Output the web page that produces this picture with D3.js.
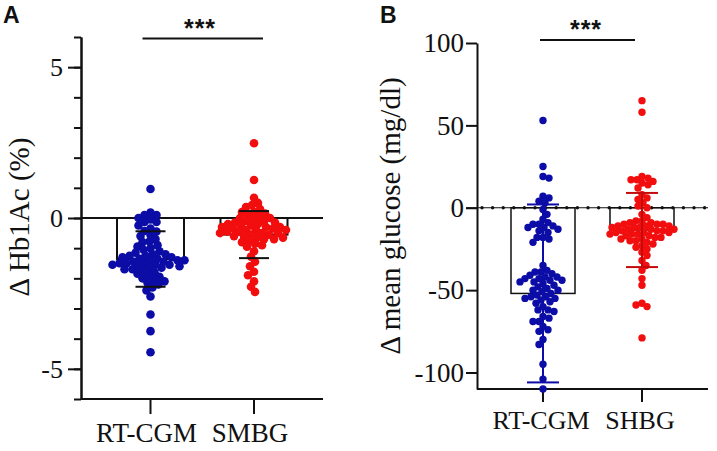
<!DOCTYPE html>
<html>
<head>
<meta charset="utf-8">
<script src="https://cdn.jsdelivr.net/npm/d3@7"></script>
<style>
body{margin:0;background:#fff}
svg{display:block}
text{font-family:"Times New Roman","Liberation Serif",Tinos,serif;fill:#111}
.sans{font-family:Arial,"Liberation Sans",Helvetica,"DejaVu Sans",sans-serif}
</style>
</head>
<body>
<svg id="chart" width="717" height="451"></svg>
<script>
// panel A : change in Hb1Ac (%)
var catsA = ["RT-CGM", "SMBG"];
var hbRT = [0.96, 0.18, 0.1, 0.1, 0.0, -0.05, -0.13, -0.13, -0.25, -0.35, -0.43, -0.45, -0.56, -0.6, -0.7,
  -0.78, -0.8, -0.9, -0.95, -1.0, -1.05, -1.1, -1.15, -1.2, -1.2, -1.25, -1.25, -1.3, -1.3, -1.35, -1.35,
  -1.4, -1.4, -1.4, -1.45, -1.45, -1.5, -1.5, -1.5, -1.55, -1.55, -1.55, -1.6, -1.6, -1.65, -1.65, -1.7,
  -1.7, -1.75, -1.8, -1.85, -1.9, -1.95, -2.0, -2.05, -2.1, -2.15, -2.2, -2.3, -2.4, -2.6, -3.2, -3.75, -4.45];
var hbSM = [2.48, 1.26, 0.67, 0.5, 0.43, 0.36, 0.3, 0.2, 0.2, 0.15, 0.1, 0.05, 0.0, 0.0, -0.05, -0.1, -0.1,
  -0.15, -0.15, -0.2, -0.2, -0.25, -0.25, -0.3, -0.3, -0.3, -0.35, -0.35, -0.4, -0.4, -0.4, -0.45, -0.45,
  -0.5, -0.5, -0.5, -0.55, -0.55, -0.6, -0.6, -0.65, -0.65, -0.7, -0.7, -0.75, -0.8, -0.85, -0.9, -0.95,
  -1.1, -1.28, -1.45, -1.6, -1.78, -1.9, -2.1, -2.28, -2.45];
var hbMean = [-1.36, -0.55];
var hbSD = [0.92, 0.78];
var ticksA = [-5, 0, 5];

// panel B : change in mean glucose (mg/dl)
var catsB = ["RT-CGM", "SHBG"];
var glRT = [53, 25, 19, 18, 7, 6, 4, 3, -1, -4, -7, -9, -10, -10, -11, -12, -12, -13, -14, -15, -18, -18,
  -19, -21, -35, -38, -39, -39, -40, -41, -42, -42, -43, -43, -44, -44, -45, -45, -46, -47, -48, -49, -50,
  -50, -51, -52, -53, -54, -54, -55, -55, -56, -57, -58, -60, -62, -62, -63, -66, -67, -69, -69, -72, -74,
  -75, -80, -83, -95, -104, -110];
var glSH = [65, 58, 19, 18, 17, 17, 16, 15, 14, 12, 8, 6, 5, 3, 1, 0, -4, -6, -8, -8, -9, -9, -10, -10, -10,
  -11, -11, -11, -12, -12, -12, -13, -13, -13, -14, -14, -14, -15, -15, -15, -16, -16, -16, -17, -17, -18,
  -18, -19, -19, -20, -20, -21, -22, -23, -24, -25, -27, -29, -32, -35, -38, -43, -47, -58, -59, -60, -79];
var glMean = [-52, -13.5];
var glSD = [54, 22.5];
var ticksB = [-100, -50, 0, 50, 100];

var blue = "#0c0ca6", red = "#f20e0e";
var svg = d3.select("#chart");

// simple beeswarm: push each dot sideways until it clears the others
function swarm(vals, y, r, k) {
  var pts = vals.map(function(v) { return {v: v, y: y(v), dx: 0}; })
    .sort(function(a, b) { return a.y - b.y; });
  var placed = [], minD = 2 * r * k;
  pts.forEach(function(p, i) {
    for (var m = 0; m < 200; m++) {
      var cands = m === 0 ? [0] : (i % 2 ? [m, -m] : [-m, m]);
      var hit = null;
      for (var c = 0; c < cands.length; c++) {
        var ok = placed.every(function(q) {
          return Math.hypot(q.dx - cands[c], q.y - p.y) >= minD;
        });
        if (ok) { hit = cands[c]; break; }
      }
      if (hit !== null) { p.dx = hit; break; }
    }
    placed.push(p);
  });
  return pts;
}

function panel(o) {
  var g = svg.append("g");
  var y = d3.scaleLinear().domain(o.ydom).range([o.bottom, o.top]);
  var x = d3.scalePoint().domain(o.cats).range(o.centers);

  // y axis
  if (o.minor) {
    g.append("g").attr("transform", "translate(" + o.left + ",0)")
      .call(d3.axisLeft(y).tickValues(o.minor).tickSize(7).tickSizeOuter(0).tickFormat(""))
      .call(function(s) { s.selectAll("line,path").attr("stroke", "#111").attr("stroke-width", o.sw); });
  }
  g.append("g").attr("transform", "translate(" + o.left + ",0)")
    .call(d3.axisLeft(y).tickValues(o.ticks).tickSize(o.tick).tickSizeOuter(0).tickPadding(o.pad)
      .tickFormat(function(d) { return String(d); }))
    .call(function(s) {
      s.selectAll("line,path").attr("stroke", "#111").attr("stroke-width", o.sw);
      s.selectAll("text").attr("font-size", o.tfs).attr("font-family", null).attr("fill", "#111");
    });

  // x axis at bottom
  var xb = d3.scaleLinear().domain([0, 1]).range([o.left, o.right]);
  g.append("line").attr("x1", xb(0)).attr("x2", xb(1)).attr("y1", o.bottom).attr("y2", o.bottom)
    .attr("stroke", "#111").attr("stroke-width", o.sw);
  g.selectAll(".xt").data(o.cats).join("line")
    .attr("x1", function(d) { return x(d); }).attr("x2", function(d) { return x(d); })
    .attr("y1", o.bottom).attr("y2", o.bottom + o.xtick)
    .attr("stroke", "#111").attr("stroke-width", o.sw);
  g.selectAll(".xl").data(o.cats).join("text")
    .attr("x", function(d) { return x(d) + o.ldx; }).attr("y", o.lbase)
    .attr("text-anchor", "middle").attr("font-size", o.lfs).text(function(d) { return d; });

  // bars from 0 to the mean
  g.selectAll(".bar").data(o.cats).join("rect")
    .attr("x", function(d) { return x(d) - o.bw / 2; })
    .attr("y", function(d, i) { return y(Math.max(0, o.mean[i])); })
    .attr("width", o.bw)
    .attr("height", function(d, i) { return Math.abs(y(o.mean[i]) - y(0)); })
    .attr("fill", "#fff").attr("stroke", "#111").attr("stroke-width", o.bsw);

  // zero line
  if (o.dotted) {
    g.append("line").attr("x1", o.left - o.tick).attr("x2", o.right).attr("y1", y(0)).attr("y2", y(0))
      .attr("stroke", "#111").attr("stroke-width", 1);
    g.selectAll(".zd").data(d3.range(o.left + 5, o.right, 10.6)).join("circle")
      .attr("cx", function(d) { return d; }).attr("cy", y(0)).attr("r", 1.7).attr("fill", "#111");
  } else {
    g.append("line").attr("x1", o.left).attr("x2", o.right).attr("y1", y(0)).attr("y2", y(0))
      .attr("stroke", "#111").attr("stroke-width", o.sw);
  }

  // error bar stems (under the dots in panel A)
  function stems(sel) {
    o.cats.forEach(function(c, i) {
      sel.append("line").attr("stroke", o.ecolors[i]).attr("stroke-width", o.esw)
        .attr("x1", x(c)).attr("x2", x(c))
        .attr("y1", y(o.mean[i] + o.sd[i])).attr("y2", y(o.mean[i] - o.sd[i]));
    });
  }
  if (o.stemUnder) stems(g);

  // dots
  o.series.forEach(function(vals, i) {
    var pts = swarm(vals, y, o.r, o.k);
    g.append("g").selectAll("circle").data(pts).join("circle")
      .attr("cx", function(d) { return x(o.cats[i]) + d.dx; })
      .attr("cy", function(d) { return d.y; })
      .attr("r", o.r).attr("fill", o.colors[i]);
  });

  if (!o.stemUnder) stems(g);
  // mean +/- SD caps
  o.cats.forEach(function(c, i) {
    [o.mean[i] - o.sd[i], o.mean[i] + o.sd[i]].forEach(function(v) {
      g.append("line").attr("stroke", o.ecolors[i]).attr("stroke-width", o.esw)
        .attr("x1", x(c) - o.cap / 2).attr("x2", x(c) + o.cap / 2)
        .attr("y1", y(v)).attr("y2", y(v));
    });
  });

  // significance
  g.append("line").attr("x1", x(o.cats[0]) + o.sig[0]).attr("x2", x(o.cats[1]) + o.sig[1])
    .attr("y1", o.sigY).attr("y2", o.sigY).attr("stroke", "#111").attr("stroke-width", 2);
  g.append("text").attr("class", "sans").attr("x", o.starX).attr("y", o.sigY - 2)
    .attr("text-anchor", "middle").attr("font-weight", "bold")
    .attr("font-size", 25).attr("letter-spacing", 1).text("***");

  // y title and panel letter
  g.append("text").attr("transform", "translate(" + o.ytX + "," + o.ytY + ") rotate(-90)")
    .attr("text-anchor", "middle").attr("font-size", 29).text(o.ytitle);
  g.append("text").attr("class", "sans").attr("x", o.letterX).attr("y", 23)
    .attr("font-weight", "bold").attr("font-size", 23)
    .text(o.letter);
}

panel({
  cats: catsA, series: [hbRT, hbSM], mean: hbMean, sd: hbSD, ticks: ticksA, minor: d3.range(-6, 7),
  ydom: [-6, 6], top: 37, bottom: 399, left: 81, right: 323, centers: [150.5, 254],
  sw: 2, tick: 13, pad: 5, tfs: 26, xtick: 15, lbase: 442, lfs: 27, ldx: -4,
  bw: 67, bsw: 2, r: 4.3, k: 0.72, colors: [blue, red], ecolors: ["#111", "#111"], esw: 2, cap: 30,
  stemUnder: true, dotted: false,
  sig: [-8, 9], sigY: 38.5, starX: 200, ytitle: "\u0394 Hb1Ac (%)", ytX: 29, ytY: 217,
  letter: "A", letterX: 3
});

panel({
  cats: catsB, series: [glRT, glSH], mean: glMean, sd: glSD, ticks: ticksB, minor: null,
  ydom: [-110, 100], top: 43, bottom: 389, left: 477, right: 708, centers: [543, 642],
  sw: 2, tick: 11, pad: 2, tfs: 27, xtick: 13, lbase: 429, lfs: 26, ldx: -2,
  bw: 64, bsw: 1.5, r: 3.7, k: 0.8, colors: [blue, red], ecolors: [blue, "#c40a0a"], esw: 2, cap: 32,
  stemUnder: false, dotted: true,
  sig: [-3, -7], sigY: 40, starX: 586, ytitle: "\u0394 mean glucose (mg/dl)", ytX: 400, ytY: 216,
  letter: "B", letterX: 380
});
</script>
</body>
</html>
